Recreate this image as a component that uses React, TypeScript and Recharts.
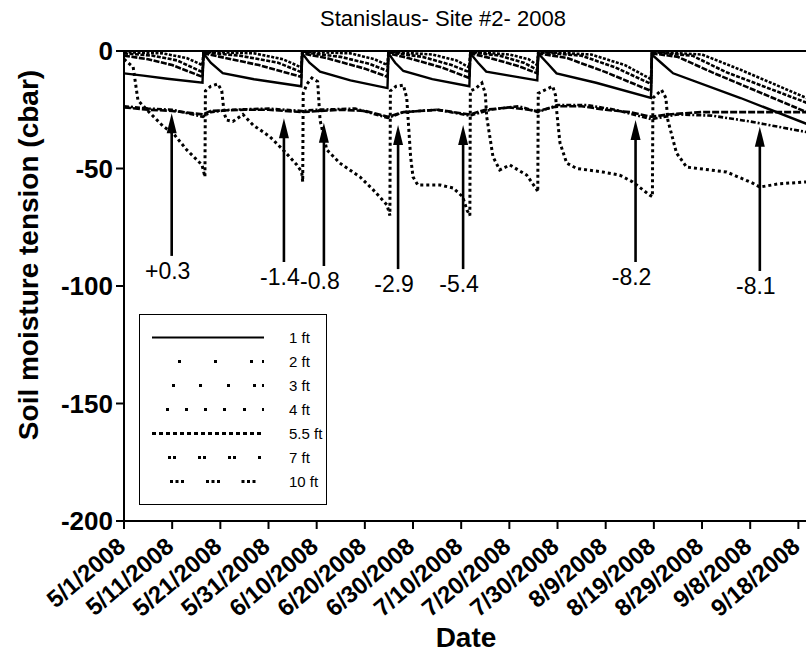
import React from 'react';
import { LineChart, Line, XAxis, YAxis, ReferenceLine, Legend } from 'recharts';

// days counted from 5/1/2008
const tickDays = [0, 10, 20, 30, 40, 50, 60, 70, 80, 90, 100, 110, 120, 130, 140];
const tickLabels = [
  '5/1/2008', '5/11/2008', '5/21/2008', '5/31/2008', '6/10/2008', '6/20/2008', '6/30/2008',
  '7/10/2008', '7/20/2008', '7/30/2008', '8/9/2008', '8/19/2008', '8/29/2008', '9/8/2008', '9/18/2008',
];
const yTicks = [0, -50, -100, -150, -200];

// [day, cbar]
const ft1: [number, number][] = [
  [0, -9.5], [4, -10.5], [9, -11.8], [16.3, -13.5],
  [16.5, -1], [18, -5], [20.5, -9.4], [27, -12], [36.8, -15],
  [37, -1], [38.5, -5], [40.7, -8.8], [47, -12.5], [54.7, -15.8],
  [54.9, -1], [56.3, -5], [58, -8.5], [64, -12], [71.7, -15],
  [71.9, -1], [73.5, -5], [75.2, -8.8], [80, -10.5], [85.8, -12.5],
  [86, -1], [87.8, -5], [89.8, -9.5], [98, -13.5], [109.4, -20],
  [109.6, -1.5], [111.5, -5], [114, -9.5], [128, -20], [141.7, -31],
];
const ft2: [number, number][] = [
  [0, -2], [5, -3.5], [10, -6], [16.3, -11],
  [16.5, -1], [20, -2.5], [28, -6], [36.8, -11],
  [37, -1], [42, -3], [50, -7.5], [54.7, -11],
  [54.9, -1], [59, -3], [66, -7], [71.7, -11.5],
  [71.9, -1], [76, -3], [82, -6.5], [85.8, -9.5],
  [86, -1], [92, -3], [100, -9], [109.4, -17],
  [109.6, -1], [115, -2.5], [122, -9], [141.7, -26],
];
const ft3: [number, number][] = [
  [0, -1], [6, -2], [11, -4], [16.3, -9],
  [16.5, -0.5], [24, -2], [32, -5], [36.8, -9],
  [37, -0.5], [45, -2.5], [51, -5.5], [54.7, -8.5],
  [54.9, -0.5], [62, -2.5], [68, -6], [71.7, -9],
  [71.9, -0.5], [78, -2], [83, -5], [85.8, -8],
  [86, -0.5], [95, -2], [102, -7], [109.4, -14],
  [109.6, -0.5], [118, -2], [125, -9], [141.7, -22],
];
const ft4: [number, number][] = [
  [0, -0.5], [8, -1], [13, -3], [16.3, -6],
  [16.5, -0.3], [27, -1], [33, -3.5], [36.8, -7],
  [37, -0.3], [47, -1], [52, -3.5], [54.7, -6],
  [54.9, -0.3], [64, -1.5], [69, -4], [71.7, -7],
  [71.9, -0.3], [80, -1.5], [84, -3.5], [85.8, -6],
  [86, -0.3], [97, -1.5], [104, -6], [109.4, -12],
  [109.6, -0.3], [120, -1.5], [128, -8], [141.7, -20],
];
const ft55: [number, number][] = [
  [0, -3.5], [1.9, -6.8], [2.9, -21], [5.4, -26.4], [8.1, -32], [10.2, -35], [13, -42], [16.2, -48.5], [16.8, -53.6],
  [16.9, -17], [18, -15], [19.5, -14], [20.3, -17], [20.8, -26.5], [21.3, -29.4], [22.6, -30], [24.7, -27], [26.8, -31.5],
  [30.3, -36.5], [33, -42], [35.9, -48.5], [36.9, -51.5], [37.1, -55.7],
  [37.2, -18], [38, -14], [39, -11.5], [40.2, -13], [40.7, -29.4], [42.1, -42], [44.8, -47.7], [49, -53.6], [51.7, -59],
  [54.6, -65.5], [55.2, -70],
  [55.3, -17], [56.5, -15], [58, -14.5], [58.7, -20], [59.5, -45], [60, -53.6], [61, -57], [65.6, -57], [68.3, -58.3],
  [70.3, -62], [71.2, -67.7], [71.8, -70],
  [71.9, -17], [73, -16], [74.3, -13.6], [75, -18], [75.3, -28], [76.6, -45], [78, -50.6], [80.1, -48.5], [83.6, -52.8],
  [85.7, -59], [85.9, -60],
  [86, -18], [87.5, -16.5], [89, -15], [89.6, -19], [89.8, -25], [90.5, -39], [91.9, -47.7], [94, -50], [99.4, -51.5],
  [102.9, -52.8], [105.6, -55.7], [109.1, -61.3], [109.7, -62],
  [109.8, -20], [111.6, -16.6], [112.5, -20], [112.9, -29.4], [114.7, -43.4], [116.8, -49.4], [125.1, -51.5],
  [130.5, -56.2], [132, -57.9], [136, -56.5], [141.7, -55.7],
];
const ft7: [number, number][] = [
  [0, -23.5], [5, -24.5], [10, -25], [16.4, -28], [18, -26], [22, -25], [30, -24.5], [36.9, -25.5], [40, -25],
  [48, -24.5], [54.8, -28.5], [58, -26], [65, -25], [71.8, -27.5], [76, -25], [82, -23.5], [85.9, -26], [90, -23],
  [96, -23], [102, -25], [109.5, -29], [115, -27], [122, -27.5], [130, -30], [141.7, -34.5],
];
const ft10: [number, number][] = [
  [0, -24], [5, -25], [10, -25.5], [16.4, -27], [18, -25.5], [25, -25], [30, -25], [36.9, -26], [45, -25],
  [50, -25.5], [54.8, -28], [58, -26], [65, -25], [71.8, -27], [75, -25], [80, -24], [85.9, -25.5], [90, -23.5],
  [95, -23.5], [100, -25], [105, -26], [109.5, -28], [113, -27], [120, -26], [130, -26], [141.7, -26],
];

const seriesNames = ['1 ft', '2 ft', '3 ft', '4 ft', '5.5 ft', '7 ft', '10 ft'];
const seriesData = [ft1, ft2, ft3, ft4, ft55, ft7, ft10];

// arrows: day, tip (cbar), base (cbar), label
const arrowDays = [9.9, 33.2, 41.5, 56.9, 70.4, 106.2, 132.0];
const arrowTips = [-26.5, -28.6, -30.5, -31.5, -31.5, -29.4, -32.2];
const arrowBases = [-87.2, -89.8, -91.5, -92.8, -92.8, -89.8, -93.6];
const arrowLabels = ['+0.3', '-1.4', '-0.8', '-2.9', '-5.4', '-8.2', '-8.1'];

const FONT = "'Liberation Sans', Arial, sans-serif";

const lineStyles = [
  { width: 2.4, dash: undefined },
  { width: 2.6, dash: '6 1.5' },
  { width: 2.6, dash: '4 1.5' },
  { width: 2.6, dash: '3 1.5' },
  { width: 3, dash: '3 3' },
  { width: 2.6, dash: '5 2 2 2' },
  { width: 2.6, dash: '7 2' },
];

const legendDash = [
  undefined,
  '0 26 3 33 3 33 3 9 3 60',
  '0 20 3 24 3 25 3 23 3 6 3 60',
  '0 14 3 16 3 16 3 16 3 17 3 16 3 60',
  '4 3',
  '0 16 3 2 3 22 3 2 3 22 3 2 3 22 3 60',
  '0 18 3 2.5 3 2.5 3 22 3 2.5 3 2.5 3 21.5 3 2.5 3 2.5 3 60',
];

const toPoints = (s: [number, number][]) => s.map(([day, v]) => ({ day, v }));

const XTick = ({ x, y, payload }: any) => {
  const i = tickDays.indexOf(payload.value);
  return (
    <g transform={`translate(${x + 3},${y + 18})`}>
      <text textAnchor="end" transform="rotate(-40)" fontSize={24} fontWeight="bold" fontFamily={FONT} fill="#000">
        {tickLabels[i]}
      </text>
    </g>
  );
};

const YTick = ({ x, y, payload }: any) => (
  <text x={x} y={y} textAnchor="end" dominantBaseline="central" fontSize={26} fontWeight="bold" fontFamily={FONT} fill="#000">
    {payload.value}
  </text>
);

const arrowShape = (label: string) => (p: any) => {
  const { x1, y1, x2, y2 } = p;
  return (
    <g>
      <line x1={x1} y1={y1} x2={x2} y2={y2 + 14} stroke="#000" strokeWidth={2.6} />
      <polygon points={`${x2},${y2} ${x2 - 5},${y2 + 20} ${x2 + 5},${y2 + 20}`} fill="#000" />
      <text x={x1 - 4} y={y1 + 23} textAnchor="middle" fontSize={23} fontFamily={FONT} fill="#000">{label}</text>
    </g>
  );
};

const LegendBox = () => (
  <div style={{ width: 188, height: 191, border: '1.5px solid #000', boxSizing: 'border-box', background: '#fff' }}>
    <svg width={185} height={188} style={{ overflow: 'visible' }}>
      {seriesNames.map((name, i) => (
        <g key={name}>
          <line x1={12} x2={124} y1={22.5 + i * 24} y2={22.5 + i * 24} stroke="#000" strokeWidth={i === 0 ? 2.2 : 3} strokeDasharray={legendDash[i]} />
          <text x={149} y={22.5 + i * 24} dominantBaseline="central" fontSize={15} fontFamily={FONT} fill="#000">{name}</text>
        </g>
      ))}
    </svg>
  </div>
);

const App = () => {
  return (
    <div style={{ position: 'absolute', left: 0, top: 0, width: 806, height: 661, overflow: 'hidden', background: '#fff' }}>
      <div style={{ position: 'absolute', left: 443, top: 6, transform: 'translateX(-50%)', whiteSpace: 'nowrap', fontSize: 22, fontFamily: FONT, lineHeight: '26px' }}>
        Stanislaus- Site #2- 2008
      </div>
      <LineChart width={820} height={661} margin={{ top: 51, right: 12, bottom: 0, left: 0 }}>
        <XAxis
          dataKey="day"
          type="number"
          domain={[0, 142]}
          ticks={tickDays}
          allowDataOverflow
          height={140}
          tick={<XTick />}
          tickSize={8}
          tickMargin={2}
          axisLine={{ stroke: '#000', strokeWidth: 2 }}
          tickLine={{ stroke: '#000', strokeWidth: 2 }}
          label={{
            content: () => (
              <text x={466} y={647} textAnchor="middle" fontSize={28} fontWeight="bold" fontFamily={FONT} fill="#000">Date</text>
            ),
          }}
        />
        <YAxis
          type="number"
          domain={[-200, 0]}
          ticks={yTicks}
          width={124}
          tick={<YTick />}
          tickSize={8}
          tickMargin={3}
          axisLine={{ stroke: '#000', strokeWidth: 2 }}
          tickLine={{ stroke: '#000', strokeWidth: 2 }}
          label={{
            content: () => (
              <text x={28} y={255} transform="rotate(-90 28 255)" textAnchor="middle" dominantBaseline="central" fontSize={28} fontWeight="bold" fontFamily={FONT} fill="#000">
                Soil moisture tension (cbar)
              </text>
            ),
          }}
        />
        <ReferenceLine y={0} stroke="#000" strokeWidth={2} />
        {seriesData.map((s, i) => (
          <Line
            key={seriesNames[i]}
            name={seriesNames[i]}
            data={toPoints(s)}
            dataKey="v"
            type="linear"
            dot={false}
            stroke="#000"
            strokeWidth={lineStyles[i].width}
            strokeDasharray={lineStyles[i].dash}
            isAnimationActive={false}
          />
        ))}
        {arrowDays.map((d, i) => (
          <ReferenceLine
            key={arrowLabels[i]}
            segment={[{ x: d, y: arrowBases[i] }, { x: d, y: arrowTips[i] }]}
            stroke="#000"
            shape={arrowShape(arrowLabels[i])}
          />
        ))}
        <Legend
          layout="horizontal"
          verticalAlign="middle"
          align="center"
          wrapperStyle={{ left: 139, top: 314, width: 188, height: 191 }}
          content={() => <LegendBox />}
        />
      </LineChart>
    </div>
  );
};

export default App;
